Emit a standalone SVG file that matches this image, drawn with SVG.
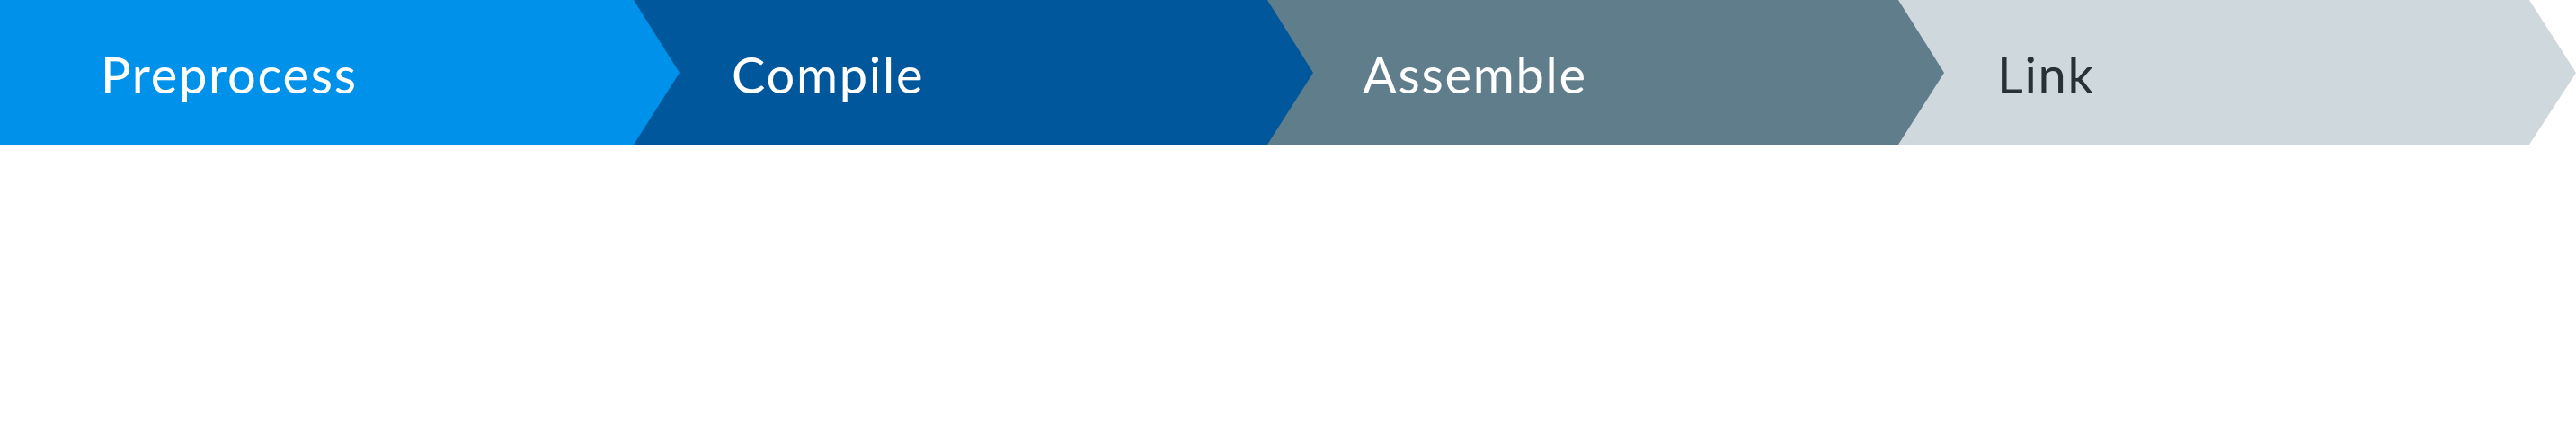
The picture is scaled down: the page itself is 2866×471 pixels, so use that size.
<svg xmlns="http://www.w3.org/2000/svg" width="2866" height="471" viewBox="0 0 2866 471">
<style>
.lbl{font-family:Lato,"Liberation Sans",sans-serif;font-size:56px;font-weight:400;letter-spacing:1.7px}
.w{fill:#ffffff}
.d{fill:#263238}
</style>
<rect x="0" y="0" width="2866" height="471" fill="#ffffff"/>
<g id="link">
<polygon points="2112,0 2814,0 2866,81 2814,161 2112,161" fill="#CFD8DC"/>
<text class="lbl d" x="2222" y="104">Link</text>
</g>
<g id="assemble">
<polygon points="1410,0 2112,0 2163,81 2112,161 1410,161" fill="#607D8B"/>
<text class="lbl w" x="1516" y="104">Assemble</text>
</g>
<g id="compile">
<polygon points="705,0 1410,0 1461,81 1410,161 705,161" fill="#01579B"/>
<text class="lbl w" x="814" y="104">Compile</text>
</g>
<g id="preprocess">
<polygon points="0,0 705,0 756,81 705,161 0,161" fill="#0091EA"/>
<text class="lbl w" x="112" y="104">Preprocess</text>
</g>
<g id="connectors"></g>
</svg>
